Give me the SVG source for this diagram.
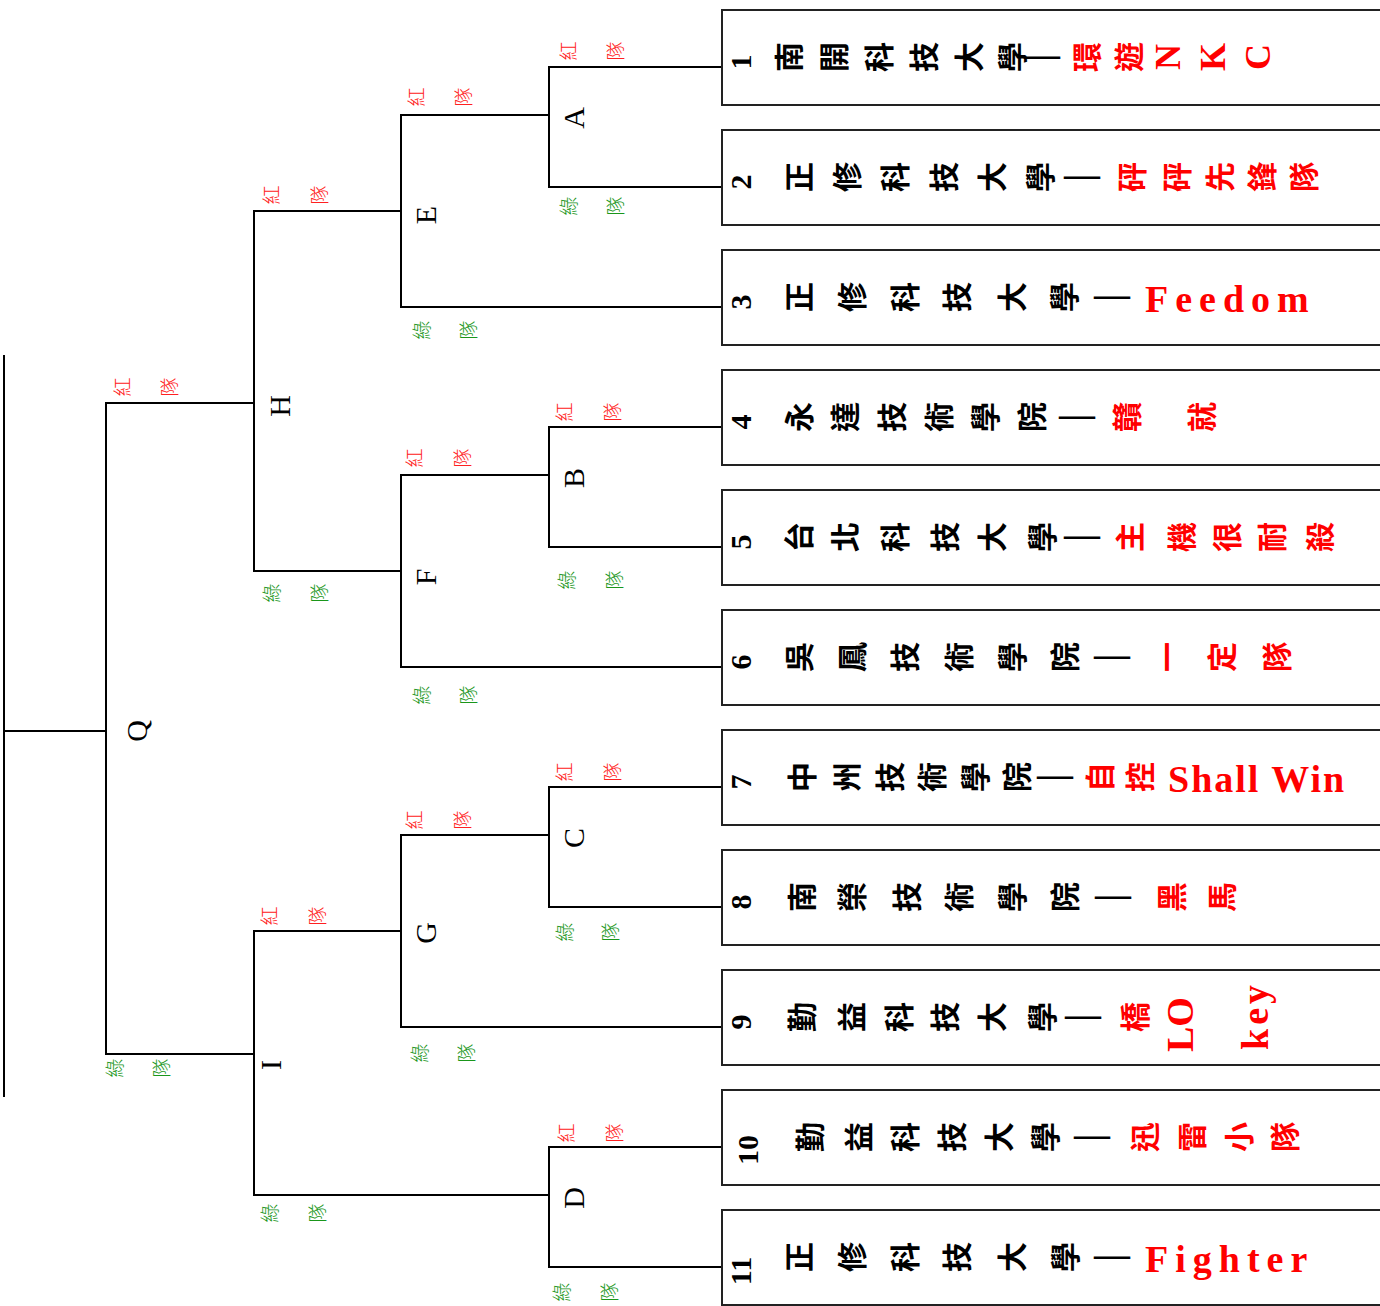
<svg xmlns="http://www.w3.org/2000/svg" width="1380" height="1306" viewBox="0 0 1380 1306">
<style>
.bg{fill:#fff}
.ln{stroke:#000;stroke-width:2;fill:none}
.box{stroke:#222;stroke-width:2;fill:#fff}
.c{font-family:"Noto Sans CJK TC","Noto Sans CJK SC",sans-serif;font-size:30px;font-weight:700;text-anchor:middle;dominant-baseline:central;fill:#000}
.d{font-family:"Liberation Serif",serif;font-size:36px;font-weight:700;text-anchor:middle;dominant-baseline:central;fill:#000}
.r{fill:#ff0000}
.num{font-family:"Liberation Serif",serif;font-size:30px;font-weight:700;text-anchor:middle;dominant-baseline:central;fill:#000}
.lr{font-family:"Liberation Serif",serif;font-size:36px;font-weight:700;text-anchor:middle;dominant-baseline:central;fill:#ff0000}
.lat{font-family:"Liberation Serif",serif;font-size:38px;font-weight:700;fill:#ff0000}
.node{font-family:"Liberation Serif",serif;font-size:30px;text-anchor:middle;dominant-baseline:central;fill:#000}
.red{font-family:"Noto Sans CJK TC",sans-serif;font-size:19px;font-weight:300;text-anchor:middle;dominant-baseline:central;fill:#ff2020}
.grn{font-family:"Noto Sans CJK TC",sans-serif;font-size:19px;font-weight:300;text-anchor:middle;dominant-baseline:central;fill:#1a961a}
</style>
<rect class="bg" x="0" y="0" width="1380" height="1306"/>

<g id="connectors">
<path class="ln" d="M4,355 V1097 M4,731 H106"/>
<path class="ln" d="M254,403 H106 V1054 H254"/>
<path class="ln" d="M401,211 H254 V571 H401"/>
<path class="ln" d="M401,931 H254 V1195 H549"/>
<path class="ln" d="M549,115 H401 V307 H722"/>
<path class="ln" d="M549,475 H401 V667 H722"/>
<path class="ln" d="M549,835 H401 V1027 H722"/>
<path class="ln" d="M722,67 H549 V187 H722"/>
<path class="ln" d="M722,427 H549 V547 H722"/>
<path class="ln" d="M722,787 H549 V907 H722"/>
<path class="ln" d="M722,1147 H549 V1267 H722"/>
</g>

<g id="node-Q"><text class="node" transform="translate(136,731) rotate(-90)">Q</text>
<text class="red" transform="translate(121,387) rotate(-90)">紅</text><text class="red" transform="translate(168,387) rotate(-90)">隊</text>
<text class="grn" transform="translate(113,1068) rotate(-90)">綠</text><text class="grn" transform="translate(160,1068) rotate(-90)">隊</text></g>
<g id="node-H"><text class="node" transform="translate(279,406) rotate(-90)">H</text>
<text class="red" transform="translate(270,195) rotate(-90)">紅</text><text class="red" transform="translate(318,195) rotate(-90)">隊</text>
<text class="grn" transform="translate(270,593) rotate(-90)">綠</text><text class="grn" transform="translate(318,593) rotate(-90)">隊</text></g>
<g id="node-I"><text class="node" transform="translate(270,1065) rotate(-90)">I</text>
<text class="red" transform="translate(268,916) rotate(-90)">紅</text><text class="red" transform="translate(316,916) rotate(-90)">隊</text>
<text class="grn" transform="translate(268,1213) rotate(-90)">綠</text><text class="grn" transform="translate(316,1213) rotate(-90)">隊</text></g>
<g id="node-E"><text class="node" transform="translate(425,215) rotate(-90)">E</text>
<text class="red" transform="translate(415,97) rotate(-90)">紅</text><text class="red" transform="translate(462,97) rotate(-90)">隊</text>
<text class="grn" transform="translate(420,330) rotate(-90)">綠</text><text class="grn" transform="translate(467,330) rotate(-90)">隊</text></g>
<g id="node-F"><text class="node" transform="translate(425,577) rotate(-90)">F</text>
<text class="red" transform="translate(413,458) rotate(-90)">紅</text><text class="red" transform="translate(461,458) rotate(-90)">隊</text>
<text class="grn" transform="translate(420,695) rotate(-90)">綠</text><text class="grn" transform="translate(467,695) rotate(-90)">隊</text></g>
<g id="node-G"><text class="node" transform="translate(425,933) rotate(-90)">G</text>
<text class="red" transform="translate(413,820) rotate(-90)">紅</text><text class="red" transform="translate(461,820) rotate(-90)">隊</text>
<text class="grn" transform="translate(418,1053) rotate(-90)">綠</text><text class="grn" transform="translate(465,1053) rotate(-90)">隊</text></g>
<g id="node-A"><text class="node" transform="translate(573,118) rotate(-90)">A</text>
<text class="red" transform="translate(567,51) rotate(-90)">紅</text><text class="red" transform="translate(614,51) rotate(-90)">隊</text>
<text class="grn" transform="translate(567,206) rotate(-90)">綠</text><text class="grn" transform="translate(614,206) rotate(-90)">隊</text></g>
<g id="node-B"><text class="node" transform="translate(573,478) rotate(-90)">B</text>
<text class="red" transform="translate(563,412) rotate(-90)">紅</text><text class="red" transform="translate(611,412) rotate(-90)">隊</text>
<text class="grn" transform="translate(565,580) rotate(-90)">綠</text><text class="grn" transform="translate(613,580) rotate(-90)">隊</text></g>
<g id="node-C"><text class="node" transform="translate(573,838) rotate(-90)">C</text>
<text class="red" transform="translate(563,772) rotate(-90)">紅</text><text class="red" transform="translate(611,772) rotate(-90)">隊</text>
<text class="grn" transform="translate(563,932) rotate(-90)">綠</text><text class="grn" transform="translate(609,932) rotate(-90)">隊</text></g>
<g id="node-D"><text class="node" transform="translate(573,1198) rotate(-90)">D</text>
<text class="red" transform="translate(565,1133) rotate(-90)">紅</text><text class="red" transform="translate(613,1133) rotate(-90)">隊</text>
<text class="grn" transform="translate(560,1292) rotate(-90)">綠</text><text class="grn" transform="translate(608,1292) rotate(-90)">隊</text></g>

<g id="team-1"><rect class="box" x="722" y="10" width="700" height="95"/>
<text class="num" transform="translate(740,62) rotate(-90)">1</text>
<text class="c" transform="translate(787,57) rotate(-90)">南</text><text class="c" transform="translate(832,57) rotate(-90)">開</text><text class="c" transform="translate(877,57) rotate(-90)">科</text><text class="c" transform="translate(922,57) rotate(-90)">技</text><text class="c" transform="translate(967,57) rotate(-90)">大</text><text class="c" transform="translate(1010,57) rotate(-90)">學</text>
<text class="d" x="1042" y="54">—</text>
<text class="c r" transform="translate(1085,57) rotate(-90)">環</text><text class="c r" transform="translate(1127,57) rotate(-90)">遊</text>
<text class="lr" transform="translate(1168,57) rotate(-90)">N</text><text class="lr" transform="translate(1213,57) rotate(-90)">K</text><text class="lr" transform="translate(1258,57) rotate(-90)">C</text></g>

<g id="team-2"><rect class="box" x="722" y="130" width="700" height="95"/>
<text class="num" transform="translate(740,182) rotate(-90)">2</text>
<text class="c" transform="translate(797,177) rotate(-90)">正</text><text class="c" transform="translate(845,177) rotate(-90)">修</text><text class="c" transform="translate(893,177) rotate(-90)">科</text><text class="c" transform="translate(942,177) rotate(-90)">技</text><text class="c" transform="translate(990,177) rotate(-90)">大</text><text class="c" transform="translate(1038,177) rotate(-90)">學</text>
<text class="d" x="1082" y="174">—</text>
<text class="c r" transform="translate(1130,177) rotate(-90)">砰</text><text class="c r" transform="translate(1175,177) rotate(-90)">砰</text><text class="c r" transform="translate(1218,177) rotate(-90)">先</text><text class="c r" transform="translate(1260,177) rotate(-90)">鋒</text><text class="c r" transform="translate(1302,177) rotate(-90)">隊</text></g>

<g id="team-3"><rect class="box" x="722" y="250" width="700" height="95"/>
<text class="num" transform="translate(740,302) rotate(-90)">3</text>
<text class="c" transform="translate(797,297) rotate(-90)">正</text><text class="c" transform="translate(850,297) rotate(-90)">修</text><text class="c" transform="translate(903,297) rotate(-90)">科</text><text class="c" transform="translate(955,297) rotate(-90)">技</text><text class="c" transform="translate(1010,297) rotate(-90)">大</text><text class="c" transform="translate(1062,297) rotate(-90)">學</text>
<text class="d" x="1112" y="294">—</text>
<text class="lat" x="1145" y="312" letter-spacing="7">Feedom</text></g>

<g id="team-4"><rect class="box" x="722" y="370" width="700" height="95"/>
<text class="num" transform="translate(740,422) rotate(-90)">4</text>
<text class="c" transform="translate(797,417) rotate(-90)">永</text><text class="c" transform="translate(843,417) rotate(-90)">達</text><text class="c" transform="translate(890,417) rotate(-90)">技</text><text class="c" transform="translate(937,417) rotate(-90)">術</text><text class="c" transform="translate(983,417) rotate(-90)">學</text><text class="c" transform="translate(1030,417) rotate(-90)">院</text>
<text class="d" x="1077" y="414">—</text>
<text class="c r" transform="translate(1125,417) rotate(-90)">贛</text><text class="c r" transform="translate(1200,417) rotate(-90)">就</text></g>

<g id="team-5"><rect class="box" x="722" y="490" width="700" height="95"/>
<text class="num" transform="translate(740,542) rotate(-90)">5</text>
<text class="c" transform="translate(797,537) rotate(-90)">台</text><text class="c" transform="translate(843,537) rotate(-90)">北</text><text class="c" transform="translate(893,537) rotate(-90)">科</text><text class="c" transform="translate(943,537) rotate(-90)">技</text><text class="c" transform="translate(990,537) rotate(-90)">大</text><text class="c" transform="translate(1040,537) rotate(-90)">學</text>
<text class="d" x="1082" y="534">—</text>
<text class="c r" transform="translate(1128,537) rotate(-90)">主</text><text class="c r" transform="translate(1180,537) rotate(-90)">機</text><text class="c r" transform="translate(1225,537) rotate(-90)">很</text><text class="c r" transform="translate(1270,537) rotate(-90)">耐</text><text class="c r" transform="translate(1318,537) rotate(-90)">殺</text></g>

<g id="team-6"><rect class="box" x="722" y="610" width="700" height="95"/>
<text class="num" transform="translate(740,662) rotate(-90)">6</text>
<text class="c" transform="translate(797,657) rotate(-90)">吳</text><text class="c" transform="translate(850,657) rotate(-90)">鳳</text><text class="c" transform="translate(903,657) rotate(-90)">技</text><text class="c" transform="translate(957,657) rotate(-90)">術</text><text class="c" transform="translate(1010,657) rotate(-90)">學</text><text class="c" transform="translate(1063,657) rotate(-90)">院</text>
<text class="d" x="1112" y="654">—</text>
<text class="c r" transform="translate(1165,657) rotate(-90)">一</text><text class="c r" transform="translate(1220,657) rotate(-90)">定</text><text class="c r" transform="translate(1275,657) rotate(-90)">隊</text></g>

<g id="team-7"><rect class="box" x="722" y="730" width="700" height="95"/>
<text class="num" transform="translate(740,782) rotate(-90)">7</text>
<text class="c" transform="translate(800,777) rotate(-90)">中</text><text class="c" transform="translate(845,777) rotate(-90)">州</text><text class="c" transform="translate(888,777) rotate(-90)">技</text><text class="c" transform="translate(930,777) rotate(-90)">術</text><text class="c" transform="translate(973,777) rotate(-90)">學</text><text class="c" transform="translate(1015,777) rotate(-90)">院</text>
<text class="d" x="1055" y="774">—</text>
<text class="c r" transform="translate(1098,777) rotate(-90)">自</text><text class="c r" transform="translate(1138,777) rotate(-90)">控</text>
<text class="lat" x="1168" y="792" font-size="43" letter-spacing="2">Shall Win</text></g>

<g id="team-8"><rect class="box" x="722" y="850" width="700" height="95"/>
<text class="num" transform="translate(740,902) rotate(-90)">8</text>
<text class="c" transform="translate(800,897) rotate(-90)">南</text><text class="c" transform="translate(850,897) rotate(-90)">榮</text><text class="c" transform="translate(905,897) rotate(-90)">技</text><text class="c" transform="translate(957,897) rotate(-90)">術</text><text class="c" transform="translate(1010,897) rotate(-90)">學</text><text class="c" transform="translate(1063,897) rotate(-90)">院</text>
<text class="d" x="1113" y="894">—</text>
<text class="c r" transform="translate(1170,897) rotate(-90)">黑</text><text class="c r" transform="translate(1220,897) rotate(-90)">馬</text></g>

<g id="team-9"><rect class="box" x="722" y="970" width="700" height="95"/>
<text class="num" transform="translate(740,1022) rotate(-90)">9</text>
<text class="c" transform="translate(800,1017) rotate(-90)">勤</text><text class="c" transform="translate(850,1017) rotate(-90)">益</text><text class="c" transform="translate(897,1017) rotate(-90)">科</text><text class="c" transform="translate(943,1017) rotate(-90)">技</text><text class="c" transform="translate(990,1017) rotate(-90)">大</text><text class="c" transform="translate(1040,1017) rotate(-90)">學</text>
<text class="d" x="1083" y="1014">—</text>
<text class="c r" transform="translate(1133,1017) rotate(-90)">橋</text>
<text class="lat" font-size="36" transform="translate(1193,1052) rotate(-90)">LO</text>
<text class="lat" font-size="36" letter-spacing="4" transform="translate(1268,1050) rotate(-90)">key</text></g>

<g id="team-10"><rect class="box" x="722" y="1090" width="700" height="95"/>
<text class="num" transform="translate(747,1150) rotate(-90)">10</text>
<text class="c" transform="translate(808,1137) rotate(-90)">勤</text><text class="c" transform="translate(857,1137) rotate(-90)">益</text><text class="c" transform="translate(903,1137) rotate(-90)">科</text><text class="c" transform="translate(950,1137) rotate(-90)">技</text><text class="c" transform="translate(997,1137) rotate(-90)">大</text><text class="c" transform="translate(1043,1137) rotate(-90)">學</text>
<text class="d" x="1092" y="1134">—</text>
<text class="c r" transform="translate(1143,1137) rotate(-90)">迅</text><text class="c r" transform="translate(1190,1137) rotate(-90)">雷</text><text class="c r" transform="translate(1237,1137) rotate(-90)">小</text><text class="c r" transform="translate(1283,1137) rotate(-90)">隊</text></g>

<g id="team-11"><rect class="box" x="722" y="1210" width="700" height="95"/>
<text class="num" transform="translate(740,1271) rotate(-90)">11</text>
<text class="c" transform="translate(797,1257) rotate(-90)">正</text><text class="c" transform="translate(850,1257) rotate(-90)">修</text><text class="c" transform="translate(903,1257) rotate(-90)">科</text><text class="c" transform="translate(955,1257) rotate(-90)">技</text><text class="c" transform="translate(1010,1257) rotate(-90)">大</text><text class="c" transform="translate(1063,1257) rotate(-90)">學</text>
<text class="d" x="1112" y="1254">—</text>
<text class="lat" x="1145" y="1272" letter-spacing="7">Fighter</text></g>
</svg>
